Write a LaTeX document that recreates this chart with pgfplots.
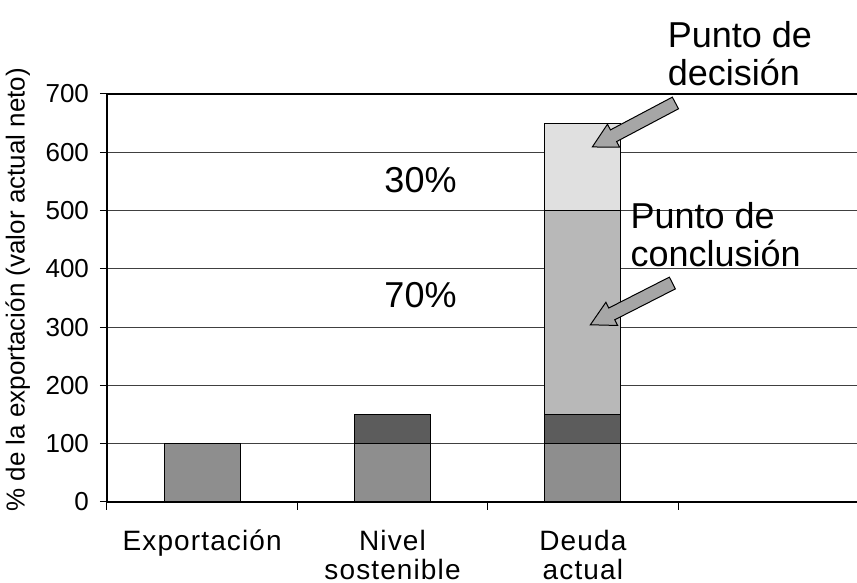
\documentclass[border=0pt]{standalone}
\usepackage{pgfplots}
\pgfplotsset{compat=1.18}
\usepackage{fontspec}
\setmainfont{Liberation Sans}
\usetikzlibrary{calc}
\definecolor{cBase}{HTML}{8E8E8E}
\definecolor{cDark}{HTML}{5C5C5C}
\definecolor{cMid}{HTML}{B8B8B8}
\definecolor{cLight}{HTML}{E0E0E0}
\definecolor{cArrow}{HTML}{A6A6A6}
\begin{document}
\begin{tikzpicture}
\begin{axis}[
  scale only axis, width=375pt, height=204pt,
  xmin=-0.5, xmax=3.44, ymin=0, ymax=700,
  clip=false,
  axis x line=bottom, axis y line=left,
  axis line style={-, line width=0.8pt, black},
  ybar stacked, bar width=0.4,
  ytick={0,100,...,700},
  ymajorgrids, grid style={line width=0.5pt, black!75},
  xtick={0,1,2},
  xticklabels={Exportación, Nivel\\sostenible, Deuda\\actual},
  xticklabel style={align=center, font=\fontsize{14}{14.5}\selectfont\addfontfeature{LetterSpace=4}, yshift=-7pt},
  minor xtick={-0.5,0.5,1.5,2.5},
  major x tick style={draw=none},
  minor x tick style={black, line width=0.5pt},
  minor tick length=4pt,
  major tick length=3.5pt,
  tick align=outside,
  y tick style={black, line width=0.5pt},
  yticklabel style={font=\fontsize{13}{14}\selectfont, xshift=-2pt},
  /pgf/number format/assume math mode=true,
  ylabel={\% de la exportación (valor actual neto)},
  ylabel style={at={(axis description cs:-0.119,0.52)}, anchor=center, font=\fontsize{13}{14}\selectfont},
]
\addplot[fill=cBase, draw=black, line width=0.5pt] coordinates {(0,100) (1,100) (2,100)};
\addplot[fill=cDark, draw=black, line width=0.5pt] coordinates {(0,0) (1,50) (2,50)};
\addplot[fill=cMid, draw=black, line width=0.5pt] coordinates {(0,0) (1,0) (2,350)};
\addplot[fill=cLight, draw=black, line width=0.5pt] coordinates {(0,0) (1,0) (2,150)};
\draw[line width=1pt, black] (axis cs:-0.5,700) -- (axis cs:3.44,700);
\node[font=\fontsize{18}{20}\selectfont] at (axis cs:1.147,552) {30\%};
\node[font=\fontsize{18}{20}\selectfont] at (axis cs:1.147,355) {70\%};
\node[font=\fontsize{18}{19}\selectfont, align=left, anchor=west, inner sep=0pt] at (axis cs:2.444,768.6) {Punto de\\decisión};
\node[font=\fontsize{18}{19}\selectfont, align=left, anchor=west, inner sep=0pt] at (axis cs:2.249,458) {Punto de\\conclusión};
\coordinate (dt) at (axis cs:2.486,684.6);
\coordinate (ct) at (axis cs:2.470,375.7);
\coordinate (sw) at (rel axis cs:0,0);
\coordinate (ne) at (rel axis cs:1,1);
\end{axis}
\begin{scope}[shift={(dt)}, rotate=207.9]
\draw[fill=cArrow, line width=0.5pt] (0,-3.3pt) -- (35pt,-3.3pt) -- (35pt,-6.5pt) -- (47pt,0) -- (35pt,6.5pt) -- (35pt,3.3pt) -- (0,3.3pt) -- cycle;
\end{scope}
\begin{scope}[shift={(ct)}, rotate=207]
\draw[fill=cArrow, line width=0.5pt] (0,-3.3pt) -- (34pt,-3.3pt) -- (34pt,-6.5pt) -- (46pt,0) -- (34pt,6.5pt) -- (34pt,3.3pt) -- (0,3.3pt) -- cycle;
\end{scope}
\pgfresetboundingbox
\path[use as bounding box] ($(sw)+(-53.5pt,-40.5pt)$) rectangle ($(ne)+(0,47pt)$);
\end{tikzpicture}
\end{document}
